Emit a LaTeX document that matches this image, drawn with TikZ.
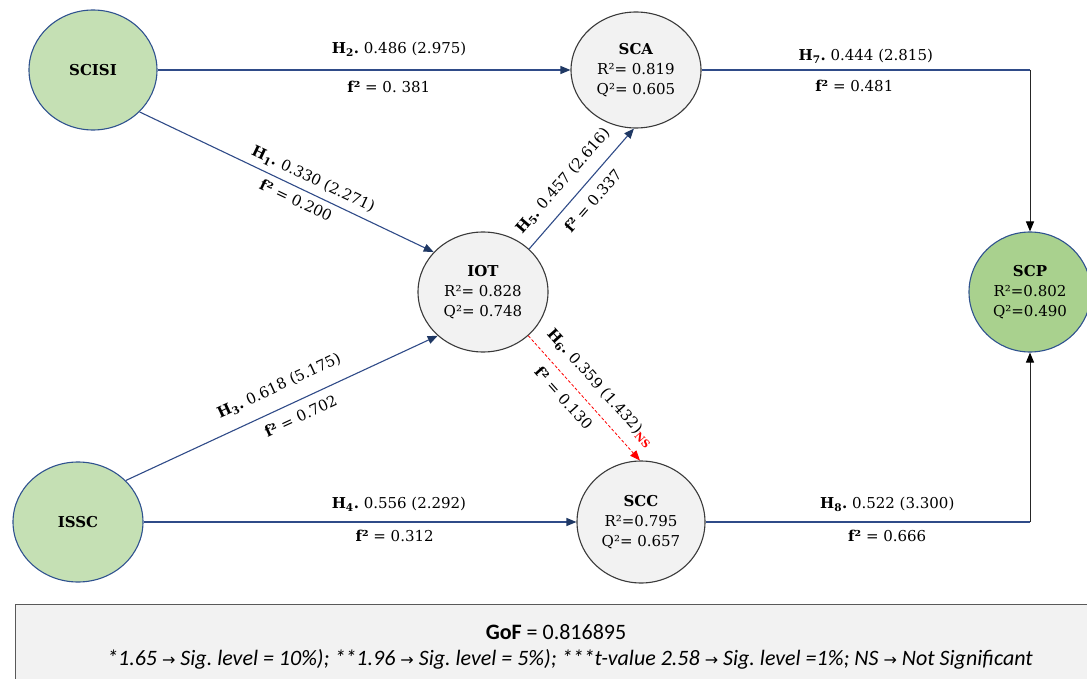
\documentclass[tikz,border=0pt]{standalone}
\usepackage{fontspec}
\setmainfont{DejaVu Serif}
\newfontfamily\calib{Carlito}
\newfontfamily\arrowfont{DejaVu Sans}
\usetikzlibrary{shapes.geometric,arrows.meta}
\definecolor{navy}{HTML}{1F3864}
\definecolor{linenavy}{HTML}{2F4B88}
\definecolor{lgreen}{HTML}{C5E0B4}
\definecolor{dgreen}{HTML}{A9D18E}
\definecolor{lgray}{HTML}{F2F2F2}
\definecolor{nodeborder}{HTML}{2F528F}
\definecolor{grayborder}{HTML}{3A3A3A}
\definecolor{boxborder}{HTML}{595959}
\newcommand{\arr}{{\arrowfont\fontsize{16}{16}\selectfont →}}
\tikzset{
  basenode/.style={ellipse, inner sep=0pt, align=center, line width=1.1pt,
    font=\fontsize{15}{20}\selectfont},
  greennode/.style={basenode, draw=nodeborder, fill=lgreen},
  darkgreennode/.style={basenode, draw=nodeborder, fill=dgreen},
  graynode/.style={basenode, draw=grayborder, fill=lgray},
  conn/.style={draw=linenavy, line width=1.1pt,
    -{Triangle[length=10pt,width=8pt,color=navy]}},
  plainconn/.style={draw=linenavy, line width=1.1pt},
  blackconn/.style={draw=black!85, line width=1pt,
    -{Triangle[length=10pt,width=8pt,color=black]}},
  nsconn/.style={draw=red, line width=0.8pt, densely dashed,
    -{Triangle[length=10pt,width=8pt,color=red]}},
  lbl/.style={font=\fontsize{15}{18}\selectfont, inner sep=1pt},
}
\frenchspacing
\begin{document}
\begin{tikzpicture}[x=1pt,y=-1pt]
\useasboundingbox (0,0) rectangle (1087,679);

% nodes
\node[greennode, minimum width=128pt, minimum height=120pt] (SCISI) at (93,70) {\textbf{SCISI}};
\node[greennode, minimum width=130pt, minimum height=120pt] (ISSC) at (78,522) {\textbf{ISSC}};
\node[graynode, minimum width=130pt, minimum height=116pt] (SCA) at (636,70) {\textbf{SCA}\\R²= 0.819\\Q²= 0.605};
\node[graynode, minimum width=130pt, minimum height=120pt] (IOT) at (483,292) {\textbf{IOT}\\R²= 0.828\\Q²= 0.748};
\node[graynode, minimum width=128pt, minimum height=122pt] (SCC) at (641,522) {\textbf{SCC}\\R²=0.795\\Q²= 0.657};
\node[darkgreennode, minimum width=122pt, minimum height=120pt] (SCP) at (1030,292) {\textbf{SCP}\\R²=0.802\\Q²=0.490};

% horizontal connectors
\draw[conn] (SCISI) -- node[lbl, pos=0.585, above=12pt] {\textbf{H\textsubscript{2}.} 0.486 (2.975)}
  node[lbl, pos=0.56, below=10pt] {\textbf{f²} = 0. 381} (SCA);
\draw[conn] (ISSC) -- node[lbl, pos=0.59, above=9pt] {\textbf{H\textsubscript{4}.} 0.556 (2.292)}
  node[lbl, pos=0.58, below=7pt] {\textbf{f²} = 0.312} (SCC);

% sloped connectors
\draw[conn] (SCISI.-42) -- node[lbl, sloped, pos=0.57, above=5pt] {\textbf{H\textsubscript{1}.} 0.330 (2.271)}
  node[lbl, sloped, pos=0.55, below=5pt] {\textbf{f²} = 0.200} (IOT.141);
\draw[conn] (ISSC.41) -- node[lbl, sloped, pos=0.52, above=12pt] {\textbf{H\textsubscript{3}.} 0.618 (5.175)}
  node[lbl, sloped, pos=0.54, below=8pt] {\textbf{f²} = 0.702} (IOT.224);
\draw[conn] (IOT.43) -- node[lbl, sloped, pos=0.46, above=10pt] {\textbf{H\textsubscript{5}.} 0.457 (2.616)}
  node[lbl, sloped, pos=0.49, below=9pt] {\textbf{f²} = 0.337} (SCA.-92);
\draw[nsconn] (IOT.-44) -- node[lbl, sloped, pos=0.52, above=10pt] {\textbf{H\textsubscript{6}.} 0.359 (1.432)\textcolor{red}{\textsubscript{\textbf{NS}}}}
  node[lbl, sloped, pos=0.42, below=8pt] {\textbf{f²} = 0.130} (SCC.91);

% connectors into SCP
\coordinate (c7) at (SCA.east -| SCP.north);
\coordinate (c8) at (SCC.east -| SCP.south);
\draw[plainconn] (SCA) -- node[lbl, pos=0.5, above=5pt] {\textbf{H\textsubscript{7}.} 0.444 (2.815)}
  node[lbl, pos=0.465, below=9pt] {\textbf{f²} = 0.481} (c7);
\draw[blackconn] (c7) -- (SCP);
\draw[plainconn] (SCC) -- node[lbl, pos=0.56, above=9pt] {\textbf{H\textsubscript{8}.} 0.522 (3.300)}
  node[lbl, pos=0.56, below=7pt] {\textbf{f²} = 0.666} (c8);
\draw[blackconn] (c8) -- (SCP);

% legend box
\node[draw=boxborder, fill=lgray, line width=1pt, minimum width=1090pt, minimum height=90pt,
  anchor=north west, inner sep=0pt] (legend) at (15,604) {};
\node[font=\calib\fontsize{22}{23}\selectfont] (gof) at (556,632) {\textbf{GoF} = 0.816895};
\node[font=\calib\itshape\fontsize{22}{23}\selectfont] (sig) at (570,659)
  {*1.65 \arr\ Sig. level = 10\%); **1.96 \arr\ Sig. level = 5\%); ***t-value 2.58 \arr\ Sig. level =1\%; NS \arr\ Not Significant};
\end{tikzpicture}
\end{document}
